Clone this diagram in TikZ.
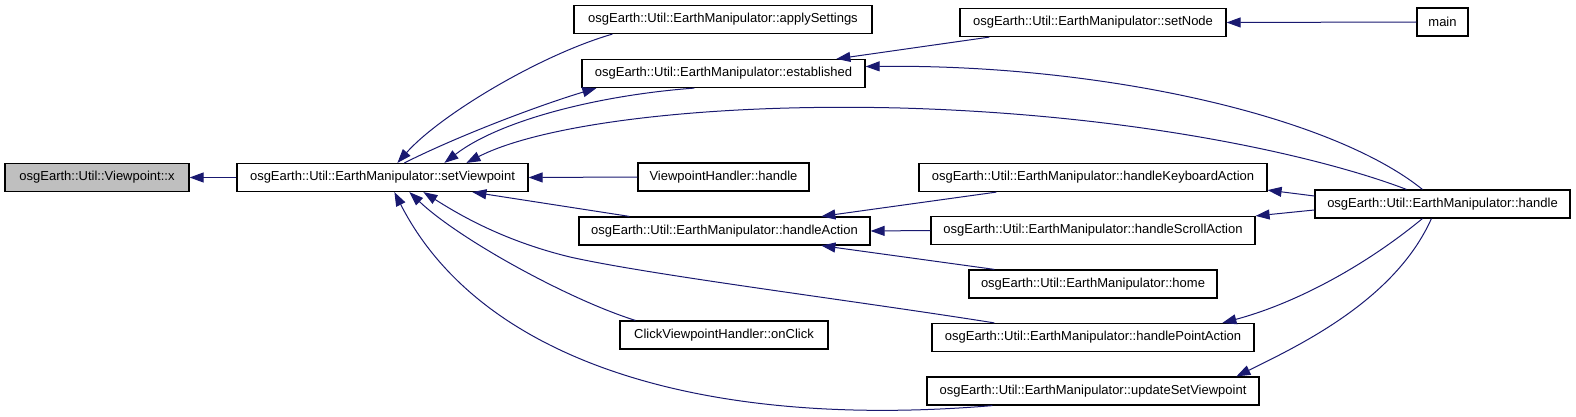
\documentclass[tikz,border=0pt]{standalone}
\usepackage{fontspec}
\setmainfont{Liberation Sans}
\usetikzlibrary{arrows.meta}

\definecolor{callblue}{RGB}{25,25,112}

\begin{document}
\begin{tikzpicture}[x=1pt,y=-1pt,
  fn/.style={draw=black,line width=1.2pt,fill=white,minimum height=28pt,
    inner sep=0pt,font=\fontsize{13}{15}\selectfont},
  call/.style={draw=callblue,line width=1pt,
    -{Triangle[length=14pt,width=10pt]}}]

% Define page size
\useasboundingbox (0,0) rectangle (1576,417);

% Column 1 and 2
\node[fn,minimum width=184pt,fill=gray!50] (vpx) at (97,177.5) {osgEarth::Util::Viewpoint::x};
\node[fn,minimum width=291pt] (sv) at (382.5,177.5) {osgEarth::Util::EarthManipulator::setViewpoint};

% Column 3
\node[fn,minimum width=298pt] (apply) at (723,19.5) {osgEarth::Util::EarthManipulator::applySettings};
\node[fn,minimum width=283pt] (est) at (723.5,73.5) {osgEarth::Util::EarthManipulator::established};
\node[fn,minimum width=171pt] (vh) at (723.5,177) {ViewpointHandler::handle};
\node[fn,minimum width=291pt] (ha) at (724.5,231) {osgEarth::Util::EarthManipulator::handleAction};
\node[fn,minimum width=208pt] (click) at (724,335) {ClickViewpointHandler::onClick};

% Column 4
\node[fn,minimum width=266pt] (setnode) at (1093,22.5) {osgEarth::Util::EarthManipulator::setNode};
\node[fn,minimum width=348pt] (kb) at (1093,177.5) {osgEarth::Util::EarthManipulator::handleKeyboardAction};
\node[fn,minimum width=324pt] (scroll) at (1093,230.5) {osgEarth::Util::EarthManipulator::handleScrollAction};
\node[fn,minimum width=248pt] (home) at (1093,284) {osgEarth::Util::EarthManipulator::home};
\node[fn,minimum width=322pt] (point) at (1093,337.5) {osgEarth::Util::EarthManipulator::handlePointAction};
\node[fn,minimum width=332pt] (update) at (1093,391) {osgEarth::Util::EarthManipulator::updateSetViewpoint};

% Column 5
\node[fn,minimum width=51pt] (main) at (1442.5,22) {main};
\node[fn,minimum width=255pt] (handle) at (1442.5,204) {osgEarth::Util::EarthManipulator::handle};

% Calls into setViewpoint
\draw[call] (sv.west) -- (vpx.east);
\draw[call] (vh.west) -- (sv.east);
\draw[call] ([xshift=39pt]apply.south west) .. controls (540,55) and (440,115) .. ([xshift=161pt]sv.north west);
\draw[call] ([xshift=168pt]sv.north west) .. controls (460,135) and (540,105) .. ([xshift=15pt]est.south west);
\draw[call] ([xshift=113pt]est.south west) .. controls (600,95) and (500,120) .. ([xshift=208pt]sv.north west);
\draw[call] ([xshift=92pt]handle.north west) .. controls (1330,160) and (1150,115) .. (900,108)
  .. controls (700,103) and (540,125) .. ([xshift=230pt]sv.north west);
\draw[call] ([xshift=51pt]ha.north west) -- ([xshift=236pt]sv.south west);
\draw[call] ([xshift=63pt]point.north west) .. controls (850,300) and (650,275) .. (570,257)
  .. controls (500,240) and (455,212) .. ([xshift=187pt]sv.south west);
\draw[call] ([xshift=16pt]click.north west) .. controls (570,300) and (460,240) .. ([xshift=173pt]sv.south west);
\draw[call] ([xshift=66pt]update.south west) .. controls (700,430) and (480,360) .. ([xshift=158pt]sv.south west);

% Calls into established
\draw[call] ([xshift=30pt]setnode.south west) -- ([xshift=255pt]est.north west);
\draw[call] ([xshift=108pt]handle.north west) .. controls (1330,115) and (1100,64) .. ([yshift=7pt]est.east);
\draw[call] (main.west) -- (setnode.east);

% Calls into handleAction
\draw[call] ([xshift=78pt]kb.south west) -- ([xshift=243pt]ha.north west);
\draw[call] (scroll.west) -- (ha.east);
\draw[call] ([xshift=26pt]home.north west) -- ([xshift=243pt]ha.south west);

% Calls from handle
\draw[call] ([yshift=8pt]handle.west) -- ([yshift=2pt]kb.south east);
\draw[call] ([yshift=-6pt]handle.west) -- (scroll.north east);
\draw[call] ([xshift=108pt]handle.south west) .. controls (1360,270) and (1290,305) .. ([xshift=291pt]point.north west);
\draw[call] ([xshift=117pt]handle.south west) .. controls (1395,300) and (1300,345) .. ([xshift=310pt]update.north west);

\end{tikzpicture}
\end{document}
